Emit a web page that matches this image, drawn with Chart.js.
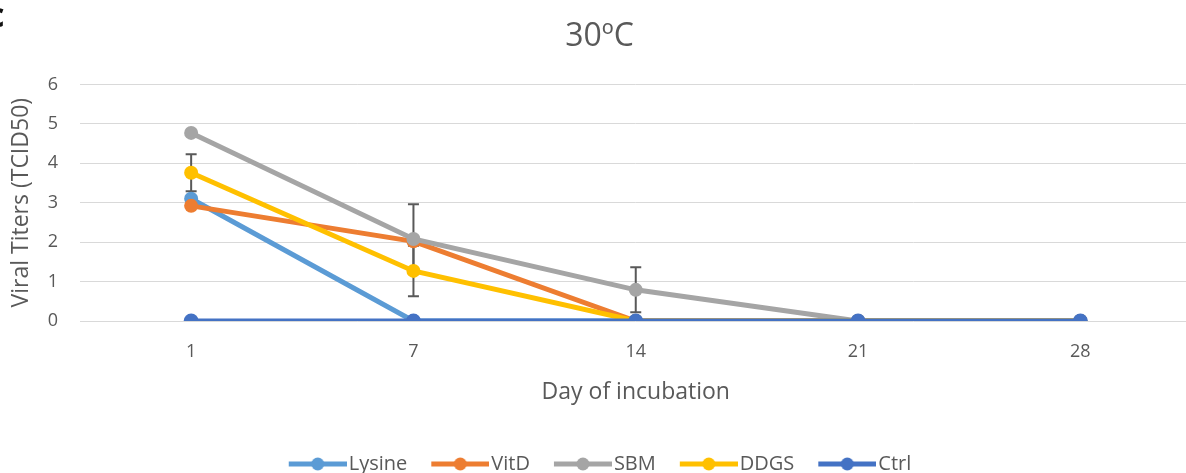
<!DOCTYPE html>
<html>
<head>
<meta charset="utf-8">
<script src="https://cdn.jsdelivr.net/npm/chart.js@4.4.1/dist/chart.umd.min.js"></script>
<style>
  html, body { margin: 0; padding: 0; background: #fff; overflow: hidden; }
  #wrap { position: relative; width: 1199px; height: 484px; }
  #panel { position: absolute; left: -13px; top: -9px; font: bold 34px "Open Sans", sans-serif; color: #111; }
</style>
</head>
<body>
<div id="wrap"><canvas id="c"></canvas><span id="panel">c</span></div>
<script>
const days = ['1', '7', '14', '21', '28'];
const lysine = [3.10, 0, 0, 0, 0];
const vitD = [2.92, 2.02, 0, 0, 0];
const sbm = [4.77, 2.08, 0.79, 0, 0];
const ddgs = [3.76, 1.27, 0, 0, 0];
const ctrl = [0, 0, 0, 0, 0];
const sbmErr = [0, 0.88, 0.57, 0, 0];
const ddgsErr = [0.47, 0.64, 0, 0, 0];
const seriesNames = ['Lysine', 'VitD', 'SBM', 'DDGS', 'Ctrl'];
const chartTitle = '30\u00BAC';
const yTitle = 'Viral Titers (TCID50)';
const xTitle = 'Day of incubation';

const colors = ['#5B9BD5', '#ED7D31', '#A5A5A5', '#FFC000', '#4472C4'];
const widths = [5, 5, 5, 5, 5.2];
const textColor = '#595959';
const FONT = '"Open Sans", sans-serif';

function legendImage(color, lw) {
  const cv = document.createElement('canvas');
  cv.width = 80; cv.height = 16;
  const g = cv.getContext('2d');
  g.strokeStyle = color; g.lineWidth = lw; g.lineCap = 'butt';
  g.beginPath(); g.moveTo(22, 8); g.lineTo(80, 8); g.stroke();
  g.fillStyle = color;
  g.beginPath(); g.arc(51, 8, 6.5, 0, Math.PI * 2); g.fill();
  return cv;
}
const legendImages = colors.map((c, i) => legendImage(c, Math.min(widths[i], 5)));

const seriesData = [lysine, vitD, sbm, ddgs, ctrl];
const datasets = seriesData.map((d, i) => ({
  label: seriesNames[i],
  data: d,
  borderColor: colors[i],
  backgroundColor: colors[i],
  borderWidth: widths[i],
  pointRadius: i === 4 ? 7.5 : 7,
  pointBorderWidth: 0,
  pointHoverRadius: 7,
  tension: 0,
  order: 5 - i
}));

const errorSets = [
  { data: sbm, err: sbmErr },
  { data: ddgs, err: ddgsErr }
];

const errorBarPlugin = {
  id: 'errorBars',
  afterLayout(chart) {
    if (chart.legend) { chart.legend.left -= 13; }
  },
  beforeDatasetsDraw(chart) {
    const { ctx, scales } = chart;
    const xs = scales.x, ys = scales.y;
    ctx.save();
    ctx.strokeStyle = '#595959';
    ctx.lineWidth = 2;
    errorSets.forEach(s => {
      s.data.forEach((v, i) => {
        const e = s.err[i];
        if (!e) return;
        const x = xs.getPixelForValue(i);
        const yt = ys.getPixelForValue(v + e);
        const yb = ys.getPixelForValue(v - e);
        ctx.beginPath();
        ctx.moveTo(x, yt); ctx.lineTo(x, yb);
        ctx.moveTo(x - 5.5, yt); ctx.lineTo(x + 5.5, yt);
        ctx.moveTo(x - 5.5, yb); ctx.lineTo(x + 5.5, yb);
        ctx.stroke();
      });
    });
    ctx.restore();
  }
};

new Chart(document.getElementById('c'), {
  type: 'line',
  data: { labels: days, datasets },
  plugins: [errorBarPlugin],
  options: {
    responsive: true,
    maintainAspectRatio: false,
    animation: false,
    layout: { padding: 0 },
    plugins: {
      title: {
        display: true,
        text: chartTitle,
        color: textColor,
        font: { family: FONT, size: 32, weight: 'normal' },
        padding: { top: 18, bottom: 28 }
      },
      legend: {
        display: true,
        position: 'bottom',
        labels: {
          usePointStyle: true,
          pointStyleWidth: 64,
          padding: 10,
          color: textColor,
          font: { family: FONT, size: 20 },
          generateLabels(chart) {
            const items = Chart.defaults.plugins.legend.labels.generateLabels(chart);
            items.forEach(it => { it.pointStyle = legendImages[it.datasetIndex]; });
            items.sort((a, b) => a.datasetIndex - b.datasetIndex);
            return items;
          }
        }
      },
      tooltip: { enabled: false }
    },
    scales: {
      x: {
        offset: true,
        grid: { display: false, drawTicks: false },
        border: { display: false },
        ticks: { color: textColor, font: { family: FONT, size: 18 }, padding: 20 },
        title: {
          display: true, text: xTitle, color: textColor,
          font: { family: FONT, size: 23 }, padding: { top: 8, bottom: 38 }
        },
        afterFit(scale) { scale.height = 123; }
      },
      y: {
        min: 0, max: 6,
        ticks: { stepSize: 1, color: textColor, font: { family: FONT, size: 18 }, padding: 22 },
        grid: { color: '#D9D9D9', lineWidth: 1, drawTicks: false },
        border: { display: false },
        title: {
          display: true, text: yTitle, color: textColor,
          font: { family: FONT, size: 23 }, padding: { top: 8, bottom: 4 }
        },
        afterFit(scale) { scale.width = 80; }
      }
    }
  }
});
</script>
</body>
</html>
